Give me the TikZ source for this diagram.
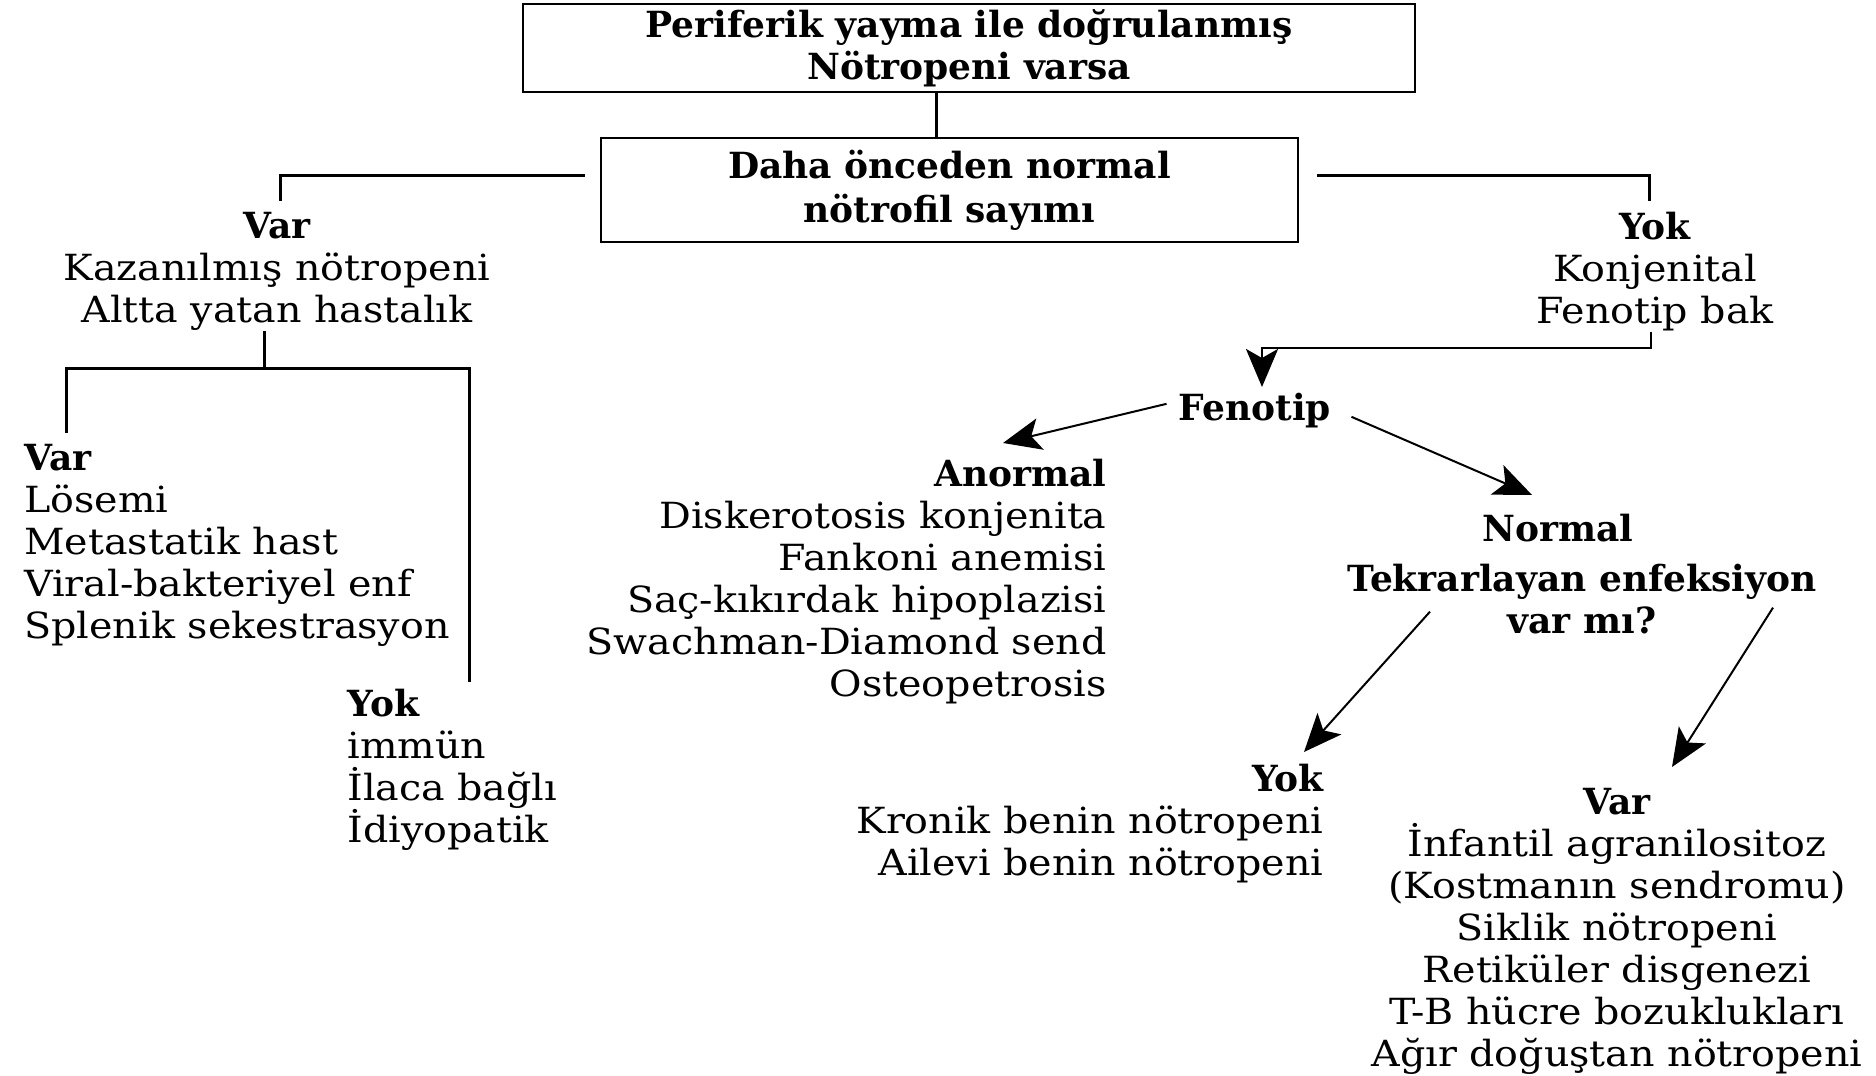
\documentclass[tikz,border=0pt]{standalone}
\usepackage{fontspec}
\setmainfont{DejaVu Serif}
\newfontfamily\regf{DejaVu Serif}[FakeStretch=1.1]
\newfontfamily\boldf{DejaVu Serif}
\newcommand{\hd}[1]{{\boldf\bfseries #1}}
\usetikzlibrary{arrows.meta,calc}
\begin{document}
\begin{tikzpicture}[x=0.5pt,y=-0.5pt,
  txt/.style={inner sep=0pt,font=\fontsize{18}{21}\selectfont\regf},
  btxt/.style={inner sep=0pt,font=\fontsize{18}{21}\selectfont\boldf\bfseries},
  box/.style={draw,line width=1.35pt,inner sep=0pt,align=center,font=\fontsize{18}{21}\selectfont\boldf\bfseries},
  ln/.style={line width=1.5pt},
  arr/.style={line width=1pt,-{Stealth[length=19pt,width=16pt,inset=4.5pt]}}]
\useasboundingbox (0,0) rectangle (1876,1076);
\fill[white] (0,0) rectangle (1876,1076);

\node[box,minimum width=446pt,minimum height=44pt] (top) at (969,48)
  {Periferik yayma ile doğrulanmış\\Nötropeni varsa};
\node[box,minimum width=348.5pt,minimum height=52pt] (prev) at (949.5,190)
  {Daha önceden normal\\[1pt]nötrofil sayımı};

\node[txt,align=center,anchor=north] (acq) at (277,212)
  {\hd{Var}\\Kazanılmış nötropeni\\Altta yatan hastalık};
\node[txt,align=center,anchor=north] (cong) at (1655,212)
  {\hd{Yok}\\Konjenital\\Fenotip bak};
\node[txt,align=left,anchor=north west] (varL) at (24,444)
  {\hd{Var}\\Lösemi\\Metastatik hast\\Viral-bakteriyel enf\\Splenik sekestrasyon};
\node[txt,align=left,anchor=north west] (yokL) at (347,689)
  {\hd{Yok}\\immün\\İlaca bağlı\\İdiyopatik};
\node[btxt,anchor=north] (feno) at (1255,393) {Fenotip};
\node[txt,align=right,anchor=north east] (anorm) at (1107,459)
  {\hd{Anormal}\\Diskerotosis konjenita\\Fankoni anemisi\\Saç-kıkırdak hipoplazisi\\Swachman-Diamond send\\Osteopetrosis};
\node[btxt,anchor=north] (normal) at (1558,514) {Normal};
\node[btxt,align=center,anchor=north] (q) at (1582,564) {Tekrarlayan enfeksiyon\\var mı?};
\node[txt,align=right,anchor=north east] (yokR) at (1324,764)
  {\hd{Yok}\\Kronik benin nötropeni\\Ailevi benin nötropeni};
\node[txt,align=center,anchor=north] (varR) at (1617,788)
  {\hd{Var}\\İnfantil agranilositoz\\(Kostmanın sendromu)\\Siklik nötropeni\\Retiküler disgenezi\\T-B hücre bozuklukları\\Ağır doğuştan nötropeni};

\coordinate (jL) at (264,368);
\coordinate (jR) at (1262,348);

\draw[ln] ([xshift=-16.5pt]top.south) -- ([xshift=-16.5pt]top.south |- prev.north);
\draw[ln] ($(prev.west)+(-15,-15)$) -| ($(acq.north)+(3,-11)$);
\draw[ln] ($(prev.east)+(18,-15)$) -| ($(cong.north)+(-6,-11)$);
\draw[ln] (acq.south -| jL) -- (jL);
\draw[ln] (jL) -| ($(varL.north west)+(42,-11)$);
\draw[ln] (jL) -| ($(yokL.north west)+(122,-7)$);
\draw[arr,line width=1.4pt] ($(cong.south)+(-4,0)$) |- (jR) -- ($(feno.north -| jR)+(0,-6)$);

\draw[arr] ($(feno.west)+(-12,-7)$) -- ($(anorm.north east)+(-104,-16)$);
\draw[arr] ($(feno.east)+(20,6)$) -- ($(normal.north)+(-26,-19)$);
\draw[arr] ($(q.south)+(-152,-23)$) -- ($(yokR.north east)+(-20,-12)$);
\draw[arr] ($(q.south)+(191,-27)$) -- ($(varR.north)+(55,-21)$);
\end{tikzpicture}
\end{document}
